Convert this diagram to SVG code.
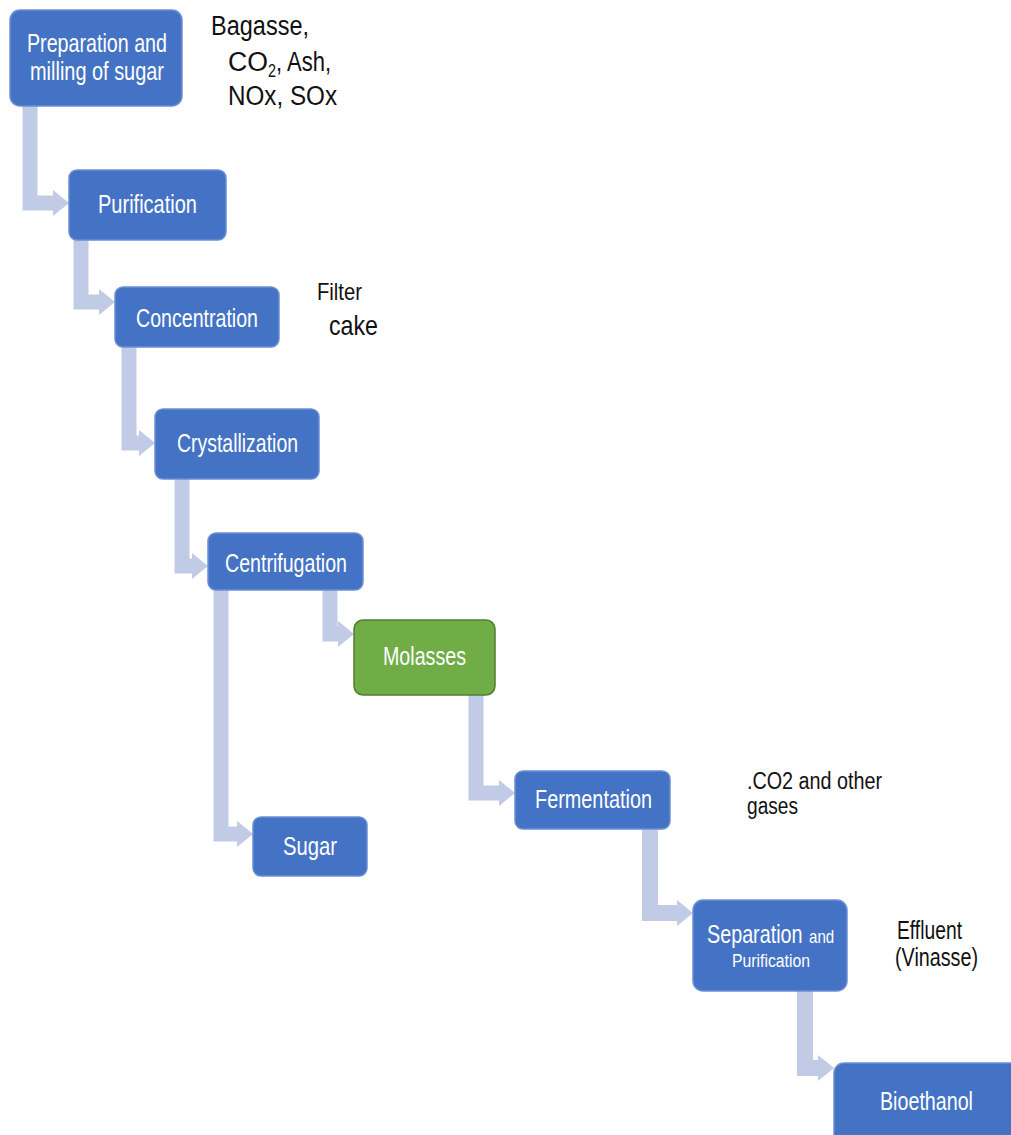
<svg xmlns="http://www.w3.org/2000/svg" width="1011" height="1135" viewBox="0 0 1011 1135">
  <style>
    .box { fill: #4472C4; stroke: #6b8fd3; stroke-width: 1.5; }
    .green { fill: #70AD47; stroke: #507E32; stroke-width: 1.5; }
    .lbl { font-family: "Liberation Sans", Arial, sans-serif; font-size: 26px; fill: #ffffff; }
    .small { font-size: 18px; }
    .note { font-family: "Liberation Sans", Arial, sans-serif; font-size: 27px; fill: #111111; }
    .flow { fill: none; stroke: #C2CBE5; stroke-width: 15; stroke-linejoin: miter; marker-end: url(#head); }
  </style>
  <defs>
    <marker id="head" markerUnits="userSpaceOnUse" markerWidth="16" markerHeight="26" refX="0" refY="13" orient="auto" viewBox="0 0 16 26">
      <path d="M0,0 L16,13 L0,26 Z" fill="#C2CBE5"/>
    </marker>
  </defs>
  <rect width="1011" height="1135" fill="#ffffff"/>

  <!-- elbow connectors -->
  <g id="connectors">
    <path class="flow" d="M30,106 V203 H53"/>
    <path class="flow" d="M81,240 V302 H99"/>
    <path class="flow" d="M129,347 V443 H139"/>
    <path class="flow" d="M182,479 V566 H192"/>
    <path class="flow" d="M330,590 V634 H338"/>
    <path class="flow" d="M221,590 V834 H237"/>
    <path class="flow" d="M476,690 V793 H499"/>
    <path class="flow" style="stroke-width:16" d="M650,829 V913 H677"/>
    <path class="flow" style="stroke-width:16" d="M805,991 V1068 H818"/>
  </g>

  <!-- process steps -->
  <g id="preparation">
    <rect class="box" x="10" y="10" width="172" height="96" rx="10"/>
    <text class="lbl" x="27" y="52" textLength="140" lengthAdjust="spacingAndGlyphs">Preparation and</text>
    <text class="lbl" x="30" y="80" textLength="134" lengthAdjust="spacingAndGlyphs">milling of sugar</text>
  </g>
  <g id="purification">
    <rect class="box" x="69" y="170" width="157" height="70" rx="8"/>
    <text class="lbl" x="98" y="213" textLength="99" lengthAdjust="spacingAndGlyphs">Purification</text>
  </g>
  <g id="concentration">
    <rect class="box" x="115" y="287" width="164" height="60" rx="8"/>
    <text class="lbl" x="136" y="327" textLength="122" lengthAdjust="spacingAndGlyphs">Concentration</text>
  </g>
  <g id="crystallization">
    <rect class="box" x="155" y="409" width="164" height="70" rx="8"/>
    <text class="lbl" x="177" y="452" textLength="121" lengthAdjust="spacingAndGlyphs">Crystallization</text>
  </g>
  <g id="centrifugation">
    <rect class="box" x="208" y="533" width="155" height="57" rx="8"/>
    <text class="lbl" x="225" y="572" textLength="122" lengthAdjust="spacingAndGlyphs">Centrifugation</text>
  </g>
  <g id="molasses">
    <rect class="green" x="354" y="620" width="141" height="75" rx="9"/>
    <text class="lbl" x="383" y="665" textLength="83" lengthAdjust="spacingAndGlyphs">Molasses</text>
  </g>
  <g id="sugar">
    <rect class="box" x="253" y="817" width="114" height="59" rx="8"/>
    <text class="lbl" x="283" y="855" textLength="54" lengthAdjust="spacingAndGlyphs">Sugar</text>
  </g>
  <g id="fermentation">
    <rect class="box" x="515" y="771" width="155" height="58" rx="8"/>
    <text class="lbl" x="535" y="808" textLength="117" lengthAdjust="spacingAndGlyphs">Fermentation</text>
  </g>
  <g id="separation">
    <rect class="box" x="693" y="900" width="154" height="91" rx="10"/>
    <!-- condensed by horizontal scaling so the measured width stays true -->
    <text class="lbl" transform="translate(707,943) scale(0.76,1)" x="0" y="0">Separation</text>
    <text class="lbl small" transform="translate(809,943) scale(0.84,1)" x="0" y="0">and</text>
    <text class="lbl small" x="732" y="967" textLength="78" lengthAdjust="spacingAndGlyphs">Purification</text>
  </g>
  <g id="bioethanol">
    <rect class="box" x="834" y="1063" width="190" height="90" rx="10"/>
    <text class="lbl" x="880" y="1110" textLength="93" lengthAdjust="spacingAndGlyphs">Bioethanol</text>
  </g>

  <!-- by-product notes -->
  <g id="notes">
    <text class="note" x="211" y="35" textLength="98" lengthAdjust="spacingAndGlyphs">Bagasse,</text>
    <text class="note" x="228" y="71" textLength="40" lengthAdjust="spacingAndGlyphs">CO</text>
    <text class="note" style="font-size:18px" x="268" y="77" textLength="8" lengthAdjust="spacingAndGlyphs">2</text>
    <text class="note" x="276" y="71" textLength="55" lengthAdjust="spacingAndGlyphs">, Ash,</text>
    <text class="note" x="228" y="105" textLength="109" lengthAdjust="spacingAndGlyphs">NOx, SOx</text>
    <text class="note" style="font-size:24px" x="317" y="300" textLength="45" lengthAdjust="spacingAndGlyphs">Filter</text>
    <text class="note" style="font-size:28px" x="329" y="335" textLength="49" lengthAdjust="spacingAndGlyphs">cake</text>
    <text class="note" style="font-size:23px" x="747" y="789" textLength="135" lengthAdjust="spacingAndGlyphs">.CO2 and other</text>
    <text class="note" style="font-size:23px" x="747" y="814" textLength="51" lengthAdjust="spacingAndGlyphs">gases</text>
    <text class="note" style="font-size:25px" x="897" y="939" textLength="65" lengthAdjust="spacingAndGlyphs">Effluent</text>
    <text class="note" style="font-size:25px" x="895" y="966" textLength="83" lengthAdjust="spacingAndGlyphs">(Vinasse)</text>
  </g>
</svg>
